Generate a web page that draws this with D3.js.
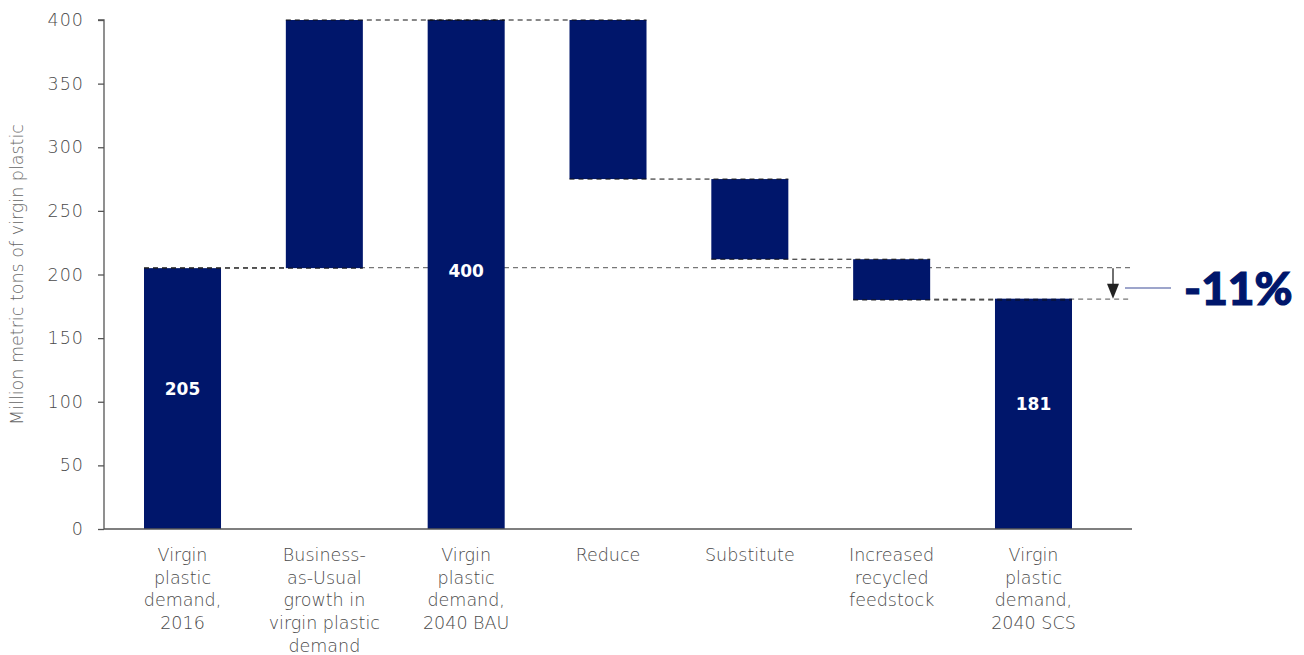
<!DOCTYPE html>
<html>
<head>
<meta charset="utf-8">
<script src="https://cdn.jsdelivr.net/npm/d3@7"></script>
<style>
  html, body { margin: 0; padding: 0; background: #fff; }
  svg { display: block; }
</style>
</head>
<body>
<svg id="chart" width="1304" height="655"></svg>
<script>
// ---- Data ----
const categories = [
  ["Virgin", "plastic", "demand,", "2016"],
  ["Business-", "as-Usual", "growth in", "virgin plastic", "demand"],
  ["Virgin", "plastic", "demand,", "2040 BAU"],
  ["Reduce"],
  ["Substitute"],
  ["Increased", "recycled", "feedstock"],
  ["Virgin", "plastic", "demand,", "2040 SCS"]
];
const values = [205, 195, 400, -125, -63, -32, 181];
const isTotal = [true, false, true, false, false, false, true];
const barLabels = ["205", "", "400", "", "", "", "181"];
const yTicks = [0, 50, 100, 150, 200, 250, 300, 350, 400];
const yTitle = "Million metric tons of virgin plastic";
const changeLabel = "-11%";

// ---- Layout ----
const svg = d3.select("#chart");
const navy = "#00166b";
const axisX0 = 104, axisX1 = 1132;
const y = d3.scaleLinear().domain([0, 400]).range([529, 20]);
const x = d3.scaleBand()
  .domain(d3.range(values.length))
  .range([111.6, 1104.4])
  .paddingInner(0.457)
  .paddingOuter(0.2285);

// compute waterfall
let running = 0;
const bars = values.map((v, i) => {
  let start, end;
  if (isTotal[i]) { start = 0; end = v; }
  else { start = running; end = running + v; }
  running = end;
  return { i, start, end, v };
});

const fontThin = "'DejaVu Sans', sans-serif";
const textGray = "#4a4a4a";

// gray reference lines (behind bars)
const g0 = svg.append("g");
g0.append("line")
  .attr("x1", x(0)).attr("x2", axisX1)
  .attr("y1", y(values[0]) - 0.5).attr("y2", y(values[0]) - 0.5)
  .attr("stroke", "#777").attr("stroke-width", 1.2).attr("stroke-dasharray", "5,4");
g0.append("line")
  .attr("x1", x(5)).attr("x2", axisX1)
  .attr("y1", y(values[6]) + 0.5).attr("y2", y(values[6]) + 0.5)
  .attr("stroke", "#777").attr("stroke-width", 1.2).attr("stroke-dasharray", "5,4");

// bars
svg.append("g").selectAll("rect").data(bars).join("rect")
  .attr("x", d => x(d.i))
  .attr("width", x.bandwidth())
  .attr("y", d => y(Math.max(d.start, d.end)))
  .attr("height", d => Math.abs(y(d.start) - y(d.end)))
  .attr("fill", navy);

// connectors
const conn = [];
for (let i = 0; i < bars.length - 1; i++) {
  conn.push({ x1: x(i), x2: x(i + 1) + x.bandwidth(), level: bars[i].end });
}
svg.append("g").selectAll("line").data(conn).join("line")
  .attr("x1", d => d.x1).attr("x2", d => d.x2)
  .attr("y1", d => y(d.level)).attr("y2", d => y(d.level))
  .attr("stroke", "#111").attr("stroke-width", 1).attr("stroke-dasharray", "5,4");

// bar labels
svg.append("g").selectAll("text").data(bars.filter(d => barLabels[d.i])).join("text")
  .attr("x", d => x(d.i) + x.bandwidth() / 2)
  .attr("y", d => (d.i === 2 ? y(d.end / 2) - 3 : y(d.end / 2) - 9))
  .attr("text-anchor", "middle")
  .attr("dominant-baseline", "middle")
  .attr("fill", "#fff")
  .attr("font-family", "'DejaVu Sans', sans-serif")
  .attr("font-weight", "bold")
  .attr("font-size", 17)
  .text(d => barLabels[d.i]);

// y axis
const yAxis = d3.axisLeft(y).tickValues(yTicks).tickSize(6).tickPadding(14);
const ya = svg.append("g").attr("transform", `translate(${axisX0},0)`).call(yAxis);
ya.select(".domain").attr("stroke", "#555").attr("stroke-width", 1.3).attr("d", `M-6,${y(400)}H0V${y(0)}`);
ya.selectAll(".tick line").attr("stroke", "#555").attr("stroke-width", 1.3);
ya.selectAll(".tick text")
  .attr("fill", textGray)
  .attr("font-family", fontThin)
  .attr("font-weight", 200)
  .attr("font-size", 17.5)
  .attr("letter-spacing", 1);

// x axis line
svg.append("line")
  .attr("x1", axisX0).attr("x2", axisX1)
  .attr("y1", y(0)).attr("y2", y(0))
  .attr("stroke", "#555").attr("stroke-width", 1.3);

// x labels
const xl = svg.append("g").selectAll("text").data(categories).join("text")
  .attr("x", (d, i) => x(i) + x.bandwidth() / 2)
  .attr("y", 561)
  .attr("text-anchor", "middle")
  .attr("fill", textGray)
  .attr("font-family", fontThin)
  .attr("font-weight", 200)
  .attr("font-size", 17.5);
xl.each(function(lines) {
  const t = d3.select(this);
  lines.forEach((ln, k) => {
    t.append("tspan")
      .attr("x", t.attr("x"))
      .attr("dy", k === 0 ? 0 : 22.7)
      .text(ln);
  });
});

// y title
svg.append("text")
  .attr("transform", `translate(23,${y(200)}) rotate(-90)`)
  .attr("text-anchor", "middle")
  .attr("fill", "#666")
  .attr("font-family", fontThin)
  .attr("font-weight", 200)
  .attr("font-size", 17.5)
  .text(yTitle);

// arrow annotation
const ax = 1113;
const yTop = y(values[0]), yBot = y(values[6]);
svg.append("line")
  .attr("x1", ax).attr("x2", ax)
  .attr("y1", yTop).attr("y2", yBot - 10)
  .attr("stroke", "#222").attr("stroke-width", 1.3);
svg.append("path")
  .attr("d", `M${ax - 6},${yBot - 15}L${ax + 6},${yBot - 15}L${ax},${yBot}Z`)
  .attr("fill", "#222");

svg.append("line")
  .attr("x1", 1125).attr("x2", 1171)
  .attr("y1", 288).attr("y2", 288)
  .attr("stroke", "#3d4c97").attr("stroke-width", 1.2);

svg.append("text")
  .attr("x", 1184).attr("y", 305)
  .attr("fill", navy)
  .attr("font-family", "Lato, 'Open Sans', sans-serif")
  .attr("font-weight", 900)
  .attr("font-size", 46)
  .attr("stroke", navy)
  .attr("stroke-width", 1.2)
  .text(changeLabel);
</script>
</body>
</html>
